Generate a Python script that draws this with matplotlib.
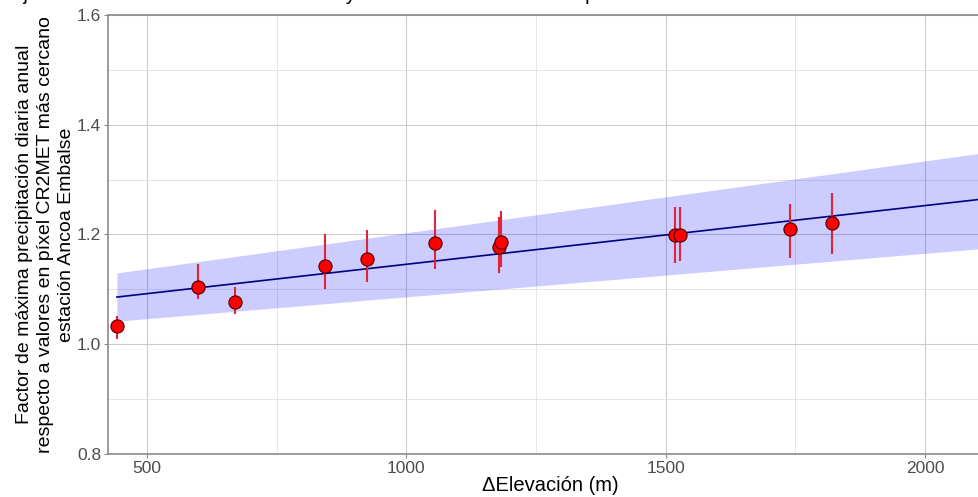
import matplotlib
matplotlib.use("Agg")
import matplotlib.pyplot as plt
from matplotlib.ticker import MultipleLocator

# Estación Ancoa Embalse: factor vs. diferencia de elevación
elev = [442, 598, 669, 844, 925, 1056, 1179, 1183, 1518, 1527, 1740, 1821]
factor = [1.033, 1.104, 1.077, 1.142, 1.155, 1.184, 1.177, 1.186,
          1.199, 1.199, 1.210, 1.221]
factor_lo = [1.009, 1.082, 1.055, 1.101, 1.113, 1.137, 1.130, 1.140,
             1.148, 1.152, 1.157, 1.164]
factor_hi = [1.051, 1.146, 1.104, 1.201, 1.208, 1.245, 1.232, 1.243,
             1.250, 1.250, 1.256, 1.276]

# Ajuste lineal (mediana) y envolvente
fit_x = [442, 2129]
fit_med = [1.086, 1.2665]
fit_lo = [1.042, 1.176]
fit_hi = [1.130, 1.351]

plt.rcParams["font.family"] = ["Liberation Sans", "DejaVu Sans"]

fig = plt.figure(figsize=(9.79, 4.97), dpi=100)
ax = fig.add_axes([108 / 979, 43 / 497, 884 / 979, 439 / 497])

ax.fill_between(fit_x, fit_lo, fit_hi, color="blue", alpha=0.2, lw=0, zorder=2)
ax.plot(fit_x, fit_med, color="navy", lw=1.2, zorder=3)
ax.vlines(elev, factor_lo, factor_hi, color="#E0243C", lw=1.5, zorder=4)
ax.scatter(elev, factor, s=90, color="red", edgecolor="#4A0000", lw=0.8, zorder=5)

ax.set_xlim(424.8, 2129)
ax.set_ylim(0.8, 1.6)
ax.xaxis.set_major_locator(MultipleLocator(500))
ax.xaxis.set_minor_locator(MultipleLocator(250))
ax.yaxis.set_major_locator(MultipleLocator(0.2))
ax.yaxis.set_minor_locator(MultipleLocator(0.1))
ax.yaxis.set_major_formatter(lambda v, p: "{:.1f}".format(v))

ax.grid(True, which="major", color="#CCCCCC", lw=0.8, zorder=0)
ax.grid(True, which="minor", color="#E2E2E2", lw=0.6, zorder=0)
ax.set_axisbelow(True)

for side in ("left", "bottom", "top"):
    ax.spines[side].set_color("#8A8A8A")
    ax.spines[side].set_linewidth(1.2)
ax.spines["right"].set_visible(False)

ax.tick_params(which="major", length=3, width=0.8, color="#8A8A8A",
               labelcolor="#4D4D4D", labelsize=12.5, pad=2)
ax.tick_params(which="minor", length=0)

ax.set_xlabel("ΔElevación (m)", fontsize=14.5, labelpad=0)
ax.set_ylabel("Factor de máxima precipitación diaria anual\n"
              "respecto a valores en píxel CR2MET más cercano\n"
              "estación Ancoa Embalse", fontsize=14, linespacing=1.32,
              labelpad=1)

fig.text(10 / 979, 1 + 0 / 497,
         "Ajuste lineal de la mediana del factor y la envolvente de valores "
         "para la estación Ancoa Embalse",
         fontsize=14.5, ha="left", va="baseline")

fig.savefig("out.png", dpi=100)
